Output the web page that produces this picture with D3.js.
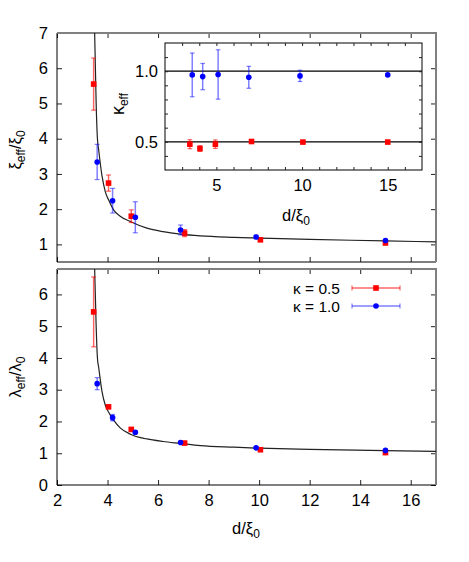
<!DOCTYPE html>
<html>
<head>
<meta charset="utf-8">
<script src="https://cdn.jsdelivr.net/npm/d3@7"></script>
<style>
  body { margin: 0; background: #fff; }
  text { font-family: "Liberation Sans", Arial, sans-serif; fill: #000; }
</style>
</head>
<body>
<div id="chart"></div>
<script>
// d/xi0 positions of the two data sets
var dRed  = [3.45, 4.04, 4.94, 7.05, 10.05, 15.0];
var dBlue = [3.59, 4.20, 5.10, 6.89, 9.88, 15.0];

// top panel: xi_eff / xi_0
var xiRed     = [5.55, 2.74, 1.80, 1.32, 1.13, 1.04];
var xiRedErr  = [0.74, 0.23, 0.18, 0.10, 0.04, 0.03];
var xiBlue    = [3.34, 2.24, 1.77, 1.41, 1.21, 1.11];
var xiBlueErr = [0.50, 0.35, 0.44, 0.14, 0.05, 0.03];

// bottom panel: lambda_eff / lambda_0
var lamRed     = [5.45, 2.46, 1.75, 1.32, 1.11, 1.02];
var lamRedErr  = [1.10, 0.04, 0.04, 0.03, 0.02, 0.02];
var lamBlue    = [3.19, 2.12, 1.66, 1.34, 1.17, 1.09];
var lamBlueErr = [0.19, 0.10, 0.05, 0.03, 0.02, 0.02];

// inset: kappa_eff
var kapRed     = [0.483, 0.452, 0.483, 0.502, 0.498, 0.498];
var kapRedErr  = [0.032, 0.020, 0.030, 0.012, 0.006, 0.005];
var kapBlue    = [0.974, 0.962, 0.977, 0.957, 0.967, 0.974];
var kapBlueErr = [0.155, 0.093, 0.175, 0.078, 0.040, 0.006];
var kapLines   = [0.5, 1.0];

// fitted curves
var fitD   = [3.49, 3.52, 3.55, 3.60, 3.65, 3.78, 3.91, 4.05, 4.24, 4.50, 4.90, 5.56, 6.20, 6.88, 7.67, 9.0, 10.0, 12.0, 15.0, 17.0];
var fitXi  = [7.00, 6.00, 5.00, 4.00, 3.68, 2.95, 2.50, 2.25, 1.98, 1.80, 1.65, 1.46, 1.36, 1.29, 1.24, 1.20, 1.18, 1.14, 1.10, 1.07];
var fitLam = [6.80, 5.90, 5.00, 4.00, 3.70, 2.95, 2.52, 2.28, 2.04, 1.80, 1.60, 1.45, 1.37, 1.31, 1.24, 1.19, 1.16, 1.12, 1.08, 1.06];

var seriesNames = ["κ = 0.5", "κ = 1.0"];
var red = "#ff0000", blue = "#0000ff";
var redBar = "rgba(255,0,0,0.6)", blueBar = "rgba(0,0,255,0.5)";

var fs = "16.5px", fsSub = "12px", fsLeg = "15.5px";

var svgWidth = 469, svgHeight = 562;
var left = 57, right = 436;

var svg = d3.select("#chart").append("svg")
  .attr("width", svgWidth)
  .attr("height", svgHeight);

var x = d3.scaleLinear().domain([2, 17]).range([left, right]);
var yTop = d3.scaleLinear().domain([0.5, 7]).range([262, 33]);
var yBot = d3.scaleLinear().domain([0, 6.8]).range([485, 269]);

var xi = d3.scaleLinear().domain([2, 17]).range([165, 422]);
var yi = d3.scaleLinear().domain([0.3, 1.2]).range([170, 43]);

function zip(xs, ys, es) {
  return xs.map(function(d, i) { return {x: d, y: ys[i], e: es ? es[i] : 0}; });
}

function frame(yScale, yTicks, showX, id) {
  var y0 = yScale.range()[0], y1 = yScale.range()[1];
  var g = svg.append("g");

  // inward ticks on all four sides
  g.append("g").attr("transform", "translate(0," + y0 + ")")
    .call(d3.axisBottom(x).tickValues(d3.range(2, 17, 2)).tickSizeInner(-5).tickSizeOuter(0).tickPadding(9)
      .tickFormat(showX ? d3.format("d") : ""));
  g.append("g").attr("transform", "translate(0," + y1 + ")")
    .call(d3.axisTop(x).tickValues(d3.range(2, 17, 2)).tickSizeInner(-5).tickSizeOuter(0).tickFormat(""));
  g.append("g").attr("transform", "translate(" + left + ",0)")
    .call(d3.axisLeft(yScale).tickValues(yTicks).tickSizeInner(-5).tickSizeOuter(0).tickPadding(9).tickFormat(d3.format("d")));
  g.append("g").attr("transform", "translate(" + right + ",0)")
    .call(d3.axisRight(yScale).tickValues(yTicks).tickSizeInner(-5).tickSizeOuter(0).tickFormat(""));

  g.selectAll(".domain").remove();
  g.selectAll(".tick line").attr("stroke", "#222");
  g.selectAll(".tick text").attr("font-size", null).style("font-size", fs).attr("fill", "#000");

  // border: left/bottom black, top/right grey
  g.append("line").attr("x1", left).attr("x2", left).attr("y1", y1).attr("y2", y0).attr("stroke", "#000");
  g.append("line").attr("x1", left).attr("x2", right).attr("y1", y0).attr("y2", y0).attr("stroke", "#000");
  g.append("line").attr("x1", left).attr("x2", right + 1).attr("y1", y1).attr("y2", y1).attr("stroke", "#808080").attr("stroke-width", 2);
  g.append("line").attr("x1", right).attr("x2", right).attr("y1", y1).attr("y2", y0).attr("stroke", "#808080").attr("stroke-width", 2);

  svg.append("clipPath").attr("id", id).append("rect")
    .attr("x", left).attr("y", y1).attr("width", right - left).attr("height", y0 - y1);
}

function drawSeries(g, xs, ys, pts, color, barColor, shape, cap) {
  var bars = g.append("g");
  pts.forEach(function(p) {
    if (p.e <= 0) return;
    var cx = xs(p.x);
    bars.append("line").attr("x1", cx).attr("x2", cx).attr("y1", ys(p.y - p.e)).attr("y2", ys(p.y + p.e))
      .attr("stroke", barColor).attr("stroke-width", 1.5);
    [p.y - p.e, p.y + p.e].forEach(function(v) {
      bars.append("line").attr("x1", cx - cap).attr("x2", cx + cap).attr("y1", ys(v)).attr("y2", ys(v))
        .attr("stroke", barColor).attr("stroke-width", 1.2);
    });
  });
  if (shape === "square") {
    g.selectAll(null).data(pts).enter().append("rect")
      .attr("x", function(d) { return xs(d.x) - 2.8; })
      .attr("y", function(d) { return ys(d.y) - 2.8; })
      .attr("width", 5.6).attr("height", 5.6)
      .attr("fill", color);
  } else {
    g.selectAll(null).data(pts).enter().append("circle")
      .attr("cx", function(d) { return xs(d.x); })
      .attr("cy", function(d) { return ys(d.y); })
      .attr("r", 2.8)
      .attr("fill", color);
  }
}

function curve(yScale, vals, clipId) {
  var line = d3.line()
    .x(function(d) { return x(d.x); })
    .y(function(d) { return yScale(d.y); })
    .curve(d3.curveMonotoneX);
  svg.append("path")
    .datum(zip(fitD, vals))
    .attr("clip-path", "url(#" + clipId + ")")
    .attr("d", line)
    .attr("fill", "none")
    .attr("stroke", "#222")
    .attr("stroke-width", 1.2);
}

// ---- top panel
frame(yTop, d3.range(1, 8), false, "clipTop");
curve(yTop, fitXi, "clipTop");
var gTop = svg.append("g");
drawSeries(gTop, x, yTop, zip(dRed, xiRed, xiRedErr), red, redBar, "square", 2.5);
drawSeries(gTop, x, yTop, zip(dBlue, xiBlue, xiBlueErr), blue, blueBar, "circle", 2.5);

// ---- bottom panel
frame(yBot, d3.range(0, 7), true, "clipBot");
curve(yBot, fitLam, "clipBot");
var gBot = svg.append("g");
drawSeries(gBot, x, yBot, zip(dRed, lamRed, lamRedErr), red, redBar, "square", 2.5);
drawSeries(gBot, x, yBot, zip(dBlue, lamBlue, lamBlueErr), blue, blueBar, "circle", 2.5);

// ---- inset
var gIn = svg.append("g");
gIn.append("rect").attr("x", 165).attr("y", 43).attr("width", 257).attr("height", 127)
  .attr("fill", "#fff").attr("stroke", "#000").attr("stroke-width", 1);

var inTicks = svg.append("g");
inTicks.append("g").attr("transform", "translate(0,170)")
  .call(d3.axisBottom(xi).tickValues(d3.range(3, 17)).tickSizeInner(-3).tickSizeOuter(0).tickPadding(9)
    .tickFormat(function(d) { return d % 5 === 0 ? d : ""; }));
inTicks.append("g").attr("transform", "translate(0,43)")
  .call(d3.axisTop(xi).tickValues(d3.range(3, 17)).tickSizeInner(-3).tickSizeOuter(0).tickFormat(""));
inTicks.append("g").attr("transform", "translate(165,0)")
  .call(d3.axisLeft(yi).tickValues([0.4, 0.5, 0.6, 0.7, 0.8, 0.9, 1.0, 1.1]).tickSizeInner(-3).tickSizeOuter(0).tickPadding(7)
    .tickFormat(function(d) { return (Math.abs(d - 0.5) < 1e-9 || Math.abs(d - 1) < 1e-9) ? d3.format(".1f")(d) : ""; }));
inTicks.append("g").attr("transform", "translate(422,0)")
  .call(d3.axisRight(yi).tickValues([0.4, 0.5, 0.6, 0.7, 0.8, 0.9, 1.0, 1.1]).tickSizeInner(-3).tickSizeOuter(0).tickFormat(""));
inTicks.selectAll(".domain").remove();
inTicks.selectAll(".tick line").attr("stroke", "#222");
inTicks.selectAll(".tick text").attr("font-size", null).style("font-size", fs).attr("fill", "#000");

gIn.selectAll(null).data(kapLines).enter().append("line")
  .attr("x1", 165).attr("x2", 422)
  .attr("y1", function(d) { return yi(d); })
  .attr("y2", function(d) { return yi(d); })
  .attr("stroke", "#000").attr("stroke-width", 1.2);

var gInPts = svg.append("g");
drawSeries(gInPts, xi, yi, zip(dRed, kapRed, kapRedErr), red, redBar, "square", 2.3);
drawSeries(gInPts, xi, yi, zip(dBlue, kapBlue, kapBlueErr), blue, blueBar, "circle", 2.3);

// ---- axis labels
function subLabel(parent, parts, big) {
  parts.forEach(function(p) {
    parent.append("tspan")
      .attr("baseline-shift", p[1] ? "-30%" : "0")
      .style("font-size", p[1] ? fsSub : (big || fs))
      .text(p[0]);
  });
}

var yl1 = svg.append("text").attr("transform", "translate(21,150) rotate(-90)")
  .attr("text-anchor", "middle");
subLabel(yl1, [["ξ", 0], ["eff", 1], ["/ξ", 0], ["0", 1]]);

var yl2 = svg.append("text").attr("transform", "translate(21,377) rotate(-90)")
  .attr("text-anchor", "middle");
subLabel(yl2, [["λ", 0], ["eff", 1], ["/λ", 0], ["0", 1]]);

var xl = svg.append("text").attr("x", 246).attr("y", 534).attr("text-anchor", "middle");
subLabel(xl, [["d/ξ", 0], ["0", 1]]);

var kl = svg.append("text").attr("transform", "translate(124,104) rotate(-90)")
  .attr("text-anchor", "middle");
subLabel(kl, [["κ", 0], ["eff", 1]], "18px");

var xil = svg.append("text").attr("x", 296).attr("y", 221).attr("text-anchor", "middle");
subLabel(xil, [["d/ξ", 0], ["0", 1]]);

// ---- legend
var legend = svg.append("g");
[[red, redBar, "square"], [blue, blueBar, "circle"]].forEach(function(s, i) {
  var cy = 288 + i * 18;
  legend.append("text").attr("x", 340).attr("y", cy + 5.5).attr("text-anchor", "end")
    .style("font-size", fsLeg).text(seriesNames[i]);
  legend.append("line").attr("x1", 352).attr("x2", 400).attr("y1", cy).attr("y2", cy)
    .attr("stroke", s[1]).attr("stroke-width", 1.5);
  [352, 400].forEach(function(px) {
    legend.append("line").attr("x1", px).attr("x2", px).attr("y1", cy - 2.5).attr("y2", cy + 2.5)
      .attr("stroke", s[1]).attr("stroke-width", 1.2);
  });
  if (s[2] === "square") {
    legend.append("rect").attr("x", 376 - 2.8).attr("y", cy - 2.8).attr("width", 5.6).attr("height", 5.6).attr("fill", s[0]);
  } else {
    legend.append("circle").attr("cx", 376).attr("cy", cy).attr("r", 2.8).attr("fill", s[0]);
  }
});
</script>
</body>
</html>
